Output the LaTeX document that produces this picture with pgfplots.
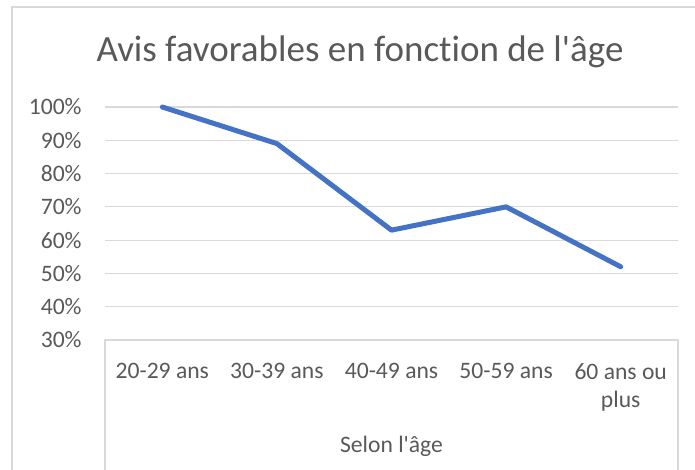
\documentclass[border=0pt]{standalone}
\usepackage{pgfplots}
\pgfplotsset{compat=1.18}
\usepackage{fontspec}
\setmainfont{Carlito}
\newfontfamily\calfont{Carlito}[Ligatures={NoCommon}]
\definecolor{txtgray}{HTML}{595959}
\definecolor{gridgray}{HTML}{D9D9D9}
\definecolor{lineblue}{HTML}{4472C4}
\begin{document}
\begin{tikzpicture}
\useasboundingbox (0,0) rectangle (347.5pt,235pt);
\draw[gridgray, line width=0.6pt] (6pt,-2pt) -- (6pt,231.5pt) -- (350pt,231.5pt);
\begin{axis}[
  at={(52.5pt,65pt)}, anchor=south west,
  scale only axis, width=286.5pt, height=116.5pt,
  xmin=-0.5, xmax=4.5, ymin=0.3, ymax=1.0,
  axis line style={draw=none},
  xtick={0,1,2,3,4},
  xticklabels={20-29 ans,30-39 ans,40-49 ans,50-59 ans,{60 ans ou\\plus}},
  ytick={0.3,0.4,0.5,0.6,0.7,0.8,0.9,1.0},
  yticklabels={30\%,40\%,50\%,60\%,70\%,80\%,90\%,100\%},
  major tick length=0pt,
  ymajorgrids, grid style={gridgray, line width=0.6pt},
  tick label style={text=txtgray, font=\calfont\fontsize{11.8}{14}\selectfont},
  yticklabel style={anchor=east, inner sep=0pt, xshift=-11.5pt},
  xticklabel style={anchor=north, align=center, inner sep=0pt, yshift=-11.5pt},
  clip=false,
]
\addplot[lineblue, line width=2.5pt, line cap=round, line join=round, mark=none]
  coordinates {(0,1.00) (1,0.89) (2,0.63) (3,0.70) (4,0.52)};
\end{axis}
\draw[gridgray, line width=0.6pt] (52.5pt,-2pt) -- (52.5pt,65pt) -- (339pt,65pt) -- (339pt,-2pt);
\node[anchor=base, text=txtgray, font=\calfont\fontsize{11.8}{14}\selectfont, inner sep=0pt] at (195.75pt,8.5pt) {Selon l'âge};
\node[anchor=base, text=txtgray, font=\calfont\fontsize{18.5}{21}\selectfont, inner sep=0pt] at (180pt,204pt) {Avis favorables en fonction de l'âge};
\end{tikzpicture}
\end{document}
